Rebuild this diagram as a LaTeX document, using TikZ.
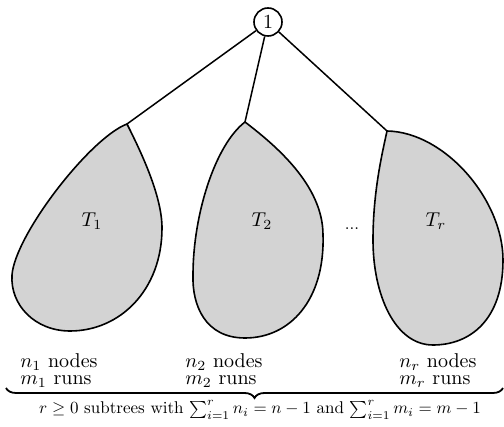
\documentclass[tikz,border=0pt]{standalone}
\usetikzlibrary{decorations.pathreplacing}
\definecolor{blobgray}{RGB}{211,211,211}
\tikzset{
  blob/.style={draw=black, fill=blobgray, line width=0.8pt},
  edge/.style={draw=black, line width=0.75pt},
  rootnode/.style={circle, draw=black, line width=0.8pt, minimum size=14pt, inner sep=0pt},
  info/.style={anchor=base west, inner sep=0pt, align=left},
}
\begin{document}
\begin{tikzpicture}[x=0.5pt,y=-0.5pt]
\useasboundingbox (0,0) rectangle (504,427);
% subtrees
\draw[blob] (127,124) .. controls (140,150) and (162,195) .. (162,228)
  .. controls (162,290) and (120,331) .. (70,331)
  .. controls (35,331) and (10,305) .. (12,275)
  .. controls (15,235) and (90,138) .. (127,124) -- cycle;
\draw[blob] (245,122) .. controls (275,145) and (323,185) .. (323,235)
  .. controls (325,300) and (290,338) .. (245,338)
  .. controls (205,338) and (192,305) .. (193,275)
  .. controls (193,215) and (215,145) .. (245,122) -- cycle;
\draw[blob] (387,131) .. controls (445,132) and (503,200) .. (503,260)
  .. controls (503,320) and (470,345) .. (433,345)
  .. controls (395,345) and (373,295) .. (373,240)
  .. controls (373,190) and (383,150) .. (387,131) -- cycle;
\coordinate (top1) at (127,124);
\coordinate (top2) at (245,122);
\coordinate (topr) at (387,131);
\node[rootnode] (root) at (268,22) {1};
\draw[edge] (root) -- (top1);
\draw[edge] (root) -- (top2);
\draw[edge] (root) -- (topr);
\node (T1) at (92,221) {$T_1$};
\node (T2) at (262,221) {$T_2$};
\node (Tr) at (436,221) {$T_r$};
\node[font=\footnotesize] (dots) at (352,229) {...};
\node[info] (i1) at (20,385) {$n_1$ nodes\\[-3.5pt]$m_1$ runs};
\node[info] (i2) at (185,385) {$n_2$ nodes\\[-3.5pt]$m_2$ runs};
\node[info] (ir) at (399,385) {$n_r$ nodes\\[-3.5pt]$m_r$ runs};
\coordinate (bl) at (6,388);
\coordinate (br) at (503,388);
\draw[line width=0.9pt, decorate, decoration={brace, mirror, amplitude=5pt}] (bl) -- (br);
\node[anchor=base, inner sep=0pt] (sum) at (260,414) {\scalebox{0.85}{$r\geq 0$ subtrees with $\sum_{i=1}^r n_i = n-1$ and $\sum_{i=1}^r m_i = m-1$}};
\end{tikzpicture}
\end{document}
